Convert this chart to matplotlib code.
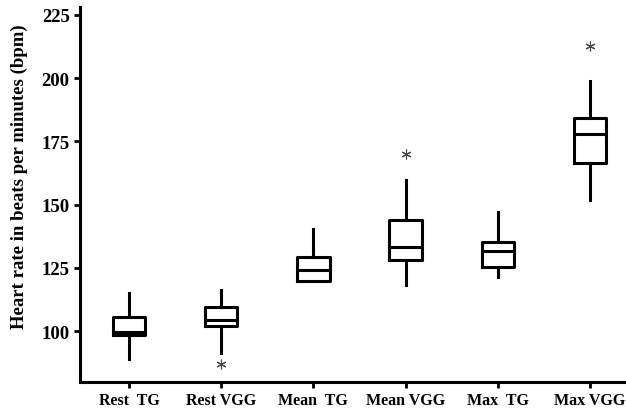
import matplotlib
matplotlib.use("Agg")
import matplotlib.pyplot as plt

labels = ["Rest  TG", "Rest VGG", "Mean  TG", "Mean VGG", "Max  TG", "Max VGG"]
whislo = [89.2, 91.5, 120.0, 118.4, 121.3, 151.8]
q1 = [98.4, 102.0, 120.0, 128.1, 125.3, 166.6]
med = [99.6, 104.5, 124.2, 133.1, 131.6, 178.1]
q3 = [105.8, 109.5, 129.2, 144.0, 135.4, 184.3]
whishi = [115.2, 116.3, 140.4, 159.6, 147.3, 199.0]
fliers = [[], [87.2], [], [170.2], [], [212.8]]

plt.rcParams["font.family"] = "Liberation Serif"
plt.rcParams["font.weight"] = "bold"

stats = []
for i in range(len(labels)):
    stats.append({
        "label": labels[i], "whislo": whislo[i], "q1": q1[i], "med": med[i],
        "q3": q3[i], "whishi": whishi[i], "fliers": fliers[i],
    })

fig = plt.figure(figsize=(6.26, 4.10), dpi=100)
ax = fig.add_axes([0.128, 0.066, 0.872, 0.914])

lw = 2.2
ax.bxp(stats, widths=0.35, showcaps=False,
       boxprops=dict(color="black", linewidth=lw),
       whiskerprops=dict(color="black", linewidth=lw),
       medianprops=dict(color="black", linewidth=lw),
       flierprops=dict(marker=(6, 2, 0), markersize=7, markeredgecolor="#444444",
                       markeredgewidth=0.8, linestyle="none"))

ax.set_xlim(0.47, 6.39)
ax.set_ylim(80, 228)
ax.set_yticks([100, 125, 150, 175, 200, 225])

for side in ["top", "right"]:
    ax.spines[side].set_visible(False)
for side in ["left", "bottom"]:
    ax.spines[side].set_linewidth(2.2)

ax.tick_params(axis="both", width=2, length=4)
ax.tick_params(axis="x", labelsize=11.5)
ax.tick_params(axis="y", labelsize=13.5)
ax.set_ylabel("Heart rate in beats per minutes (bpm)", fontsize=13.5, fontweight="bold")
ax.yaxis.set_label_coords(-0.095, 0.55)

fig.savefig("out.png", dpi=100)
